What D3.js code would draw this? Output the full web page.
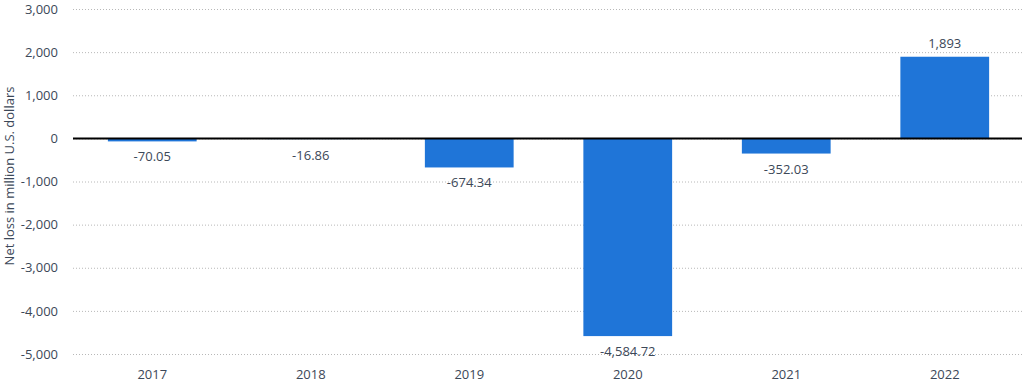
<!DOCTYPE html>
<html><head><meta charset="utf-8">
<script src="https://cdn.jsdelivr.net/npm/d3@7"></script>
<style>body{margin:0;background:#fff}text{font-family:"Open Sans",sans-serif}</style>
</head><body><svg id="c" width="1024" height="382"></svg>
<script>
const categories = ["2017","2018","2019","2020","2021","2022"];
const values = [-70.05,-16.86,-674.34,-4584.72,-352.03,1893];
const valueLabels = ["-70.05","-16.86","-674.34","-4,584.72","-352.03","1,893"];
const yTicks = [3000,2000,1000,0,-1000,-2000,-3000,-4000,-5000];
const yTitle = "Net loss in million U.S. dollars";

const svg = d3.select("#c");
const m = {l:73, r:1022, t:9, b:354};
const x = d3.scaleBand().domain(categories).range([m.l,m.r+2]).paddingInner(0.44).paddingOuter(0.22);
const y = d3.scaleLinear().domain([-5000,3000]).range([m.b,m.t]);
const txt = "#3c4858";
const fmt = d3.format(",");

const ya = svg.append("g").attr("transform",`translate(${m.l},0)`)
  .call(d3.axisLeft(y).tickValues(yTicks).tickSize(-(m.r-m.l)).tickFormat(d=>fmt(d).replace("\u2212","-")));
ya.select(".domain").remove();
ya.selectAll(".tick line").attr("stroke","#b8b8b8").attr("stroke-dasharray","1,2").attr("stroke-width",1);
ya.selectAll(".tick text").attr("x",-15).attr("fill",txt).attr("font-size",13);

svg.append("g").selectAll("rect").data(values).join("rect")
  .attr("x",(d,i)=>x(categories[i])).attr("width",x.bandwidth())
  .attr("y",d=>y(Math.max(0,d))).attr("height",d=>Math.abs(y(d)-y(0)))
  .attr("fill","#1f75d8");

svg.append("line").attr("x1",m.l).attr("x2",m.r).attr("y1",y(0)).attr("y2",y(0))
  .attr("stroke","#000").attr("stroke-width",2);

svg.append("g").selectAll("text").data(values).join("text")
  .attr("x",(d,i)=>x(categories[i])+x.bandwidth()/2)
  .attr("y",d=> d<0 ? Math.max(y(d), y(0)+2)+20 : y(d)-9)
  .attr("text-anchor","middle").attr("fill",txt).attr("font-size",13)
  .text((d,i)=>valueLabels[i]);

const xa = svg.append("g").attr("transform",`translate(0,${m.b})`)
  .call(d3.axisBottom(x).tickSize(0));
xa.select(".domain").remove();
xa.selectAll(".tick text").attr("dy",0).attr("y",25).attr("fill",txt).attr("font-size",13);

svg.append("text").attr("transform",`translate(14,176) rotate(-90)`)
  .attr("text-anchor","middle").attr("fill",txt).attr("font-size",13).text(yTitle);
</script></body></html>
